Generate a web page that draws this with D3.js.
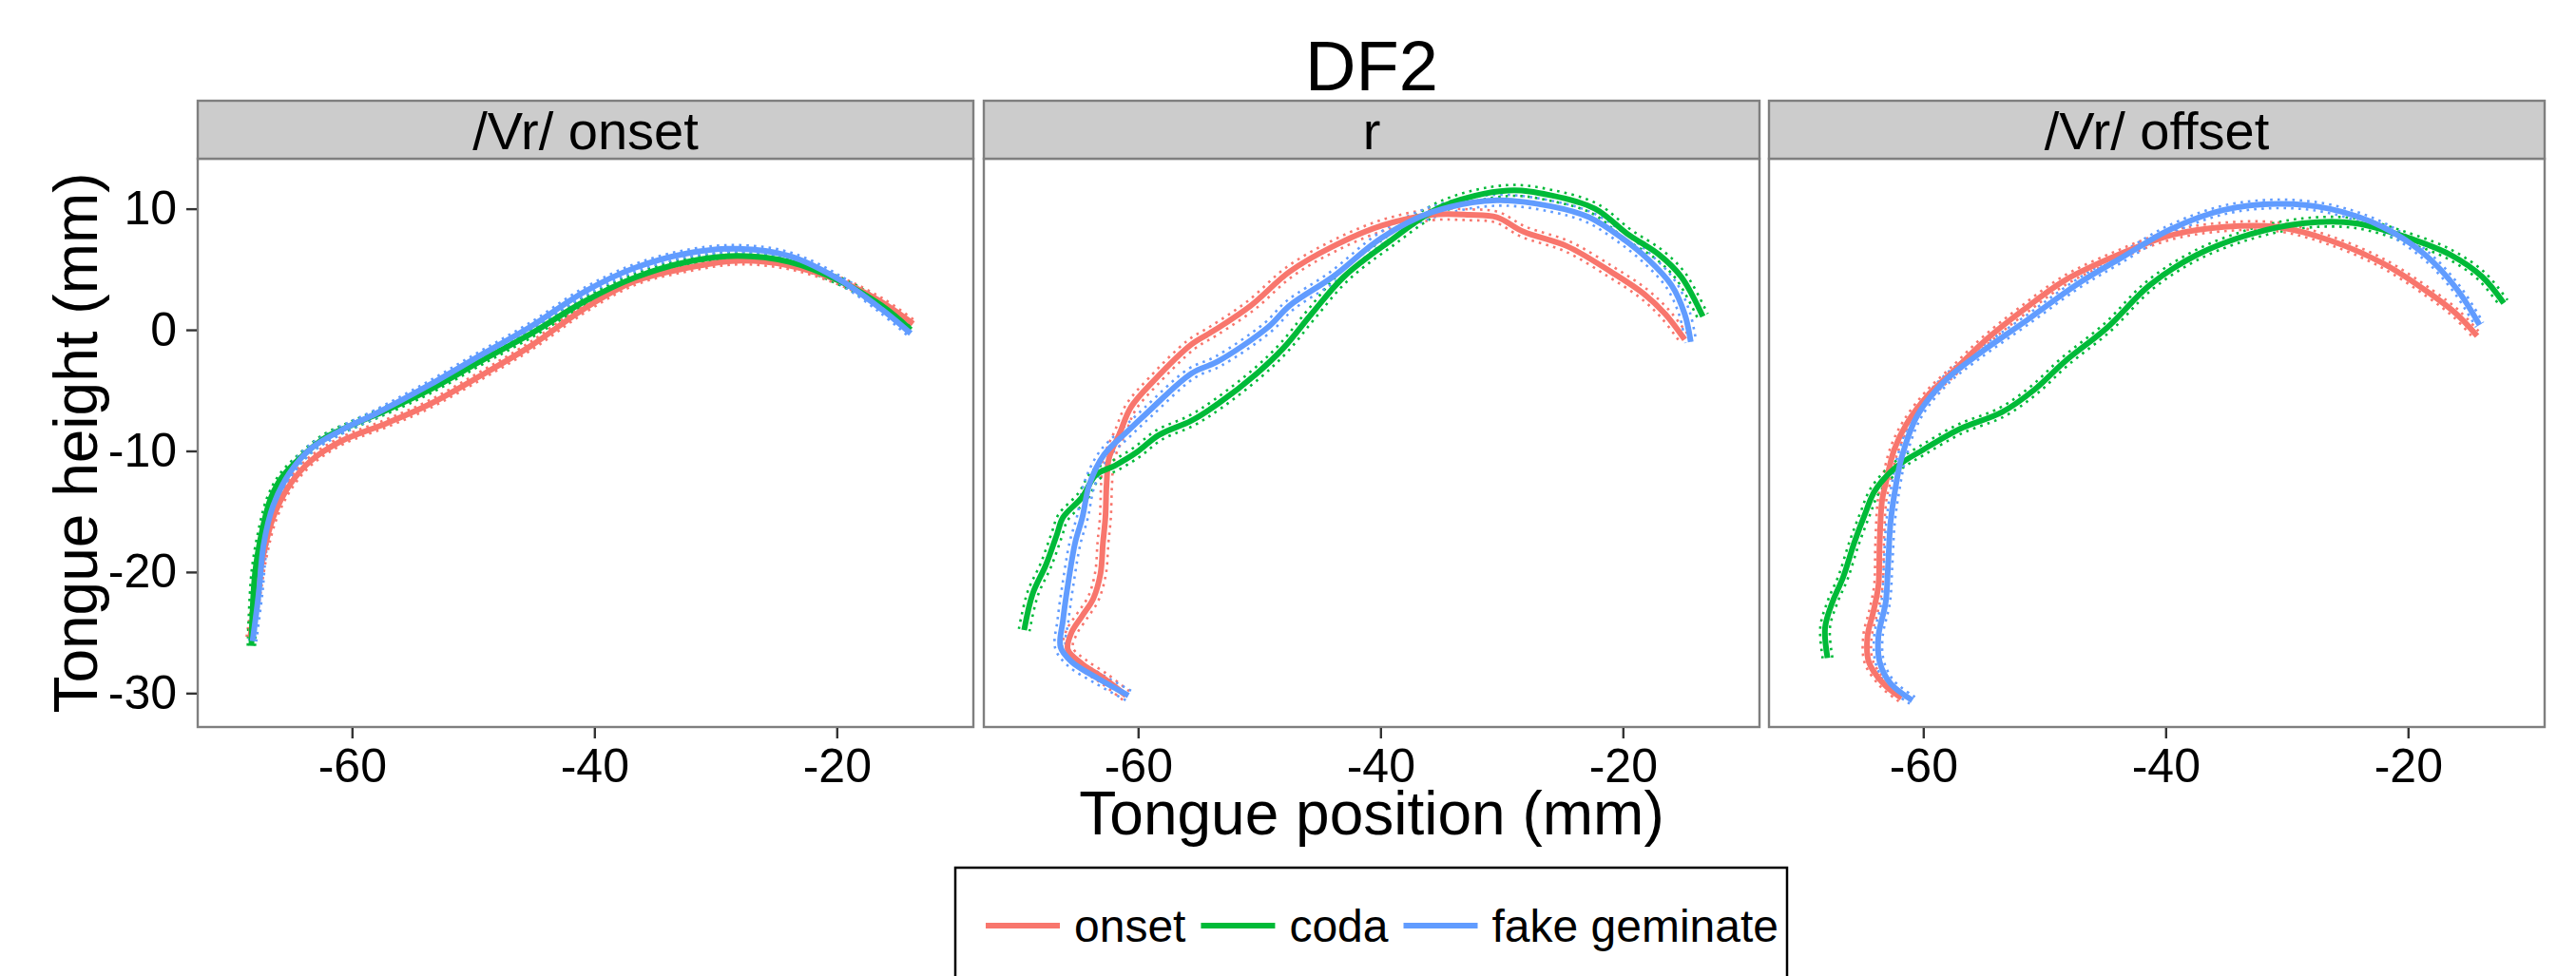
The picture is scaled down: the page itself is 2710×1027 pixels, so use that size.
<!DOCTYPE html>
<meta charset="utf-8">
<script src="https://d3js.org/d3.v7.min.js"></script>
<style>
  body { margin: 0; background: #fff; }
  text { font-family: "Liberation Sans", Arial, Helvetica, sans-serif; }
</style>
<div id="chart"></div>
<script>

// panels, groups, ticks
var panels = ["/Vr/ onset", "r", "/Vr/ offset"];
var groups = ["onset", "coda", "fake geminate"];
var xTicks = [-60, -40, -20];
var yTicks = [10, 0, -10, -20, -30];

// mean contours (tongue position, tongue height)
var vrOnsetOnset = [[-68.4,-25.4],[-68.0,-22.8],[-67.3,-18.5],[-66.5,-15.5],[-65.2,-12.9],[-63.5,-10.9],[-60.9,-9.2],[-57.1,-7.7],[-53.7,-6.2],[-49.4,-3.8],[-45.2,-1.3],[-40.9,1.7],[-36.7,4.0],[-32.4,5.1],[-28.2,5.7],[-23.9,5.3],[-19.7,4.0],[-16.3,2.3],[-13.7,0.5]];
var vrOnsetCoda = [[-68.3,-26.1],[-68.0,-20.1],[-67.4,-16.5],[-66.7,-13.9],[-65.8,-12.2],[-64.3,-10.6],[-62.2,-8.9],[-60.1,-7.9],[-57.1,-6.6],[-53.7,-5.0],[-49.4,-2.6],[-45.2,-0.3],[-40.9,2.3],[-36.7,4.3],[-32.4,5.6],[-28.2,6.1],[-23.9,5.6],[-19.7,4.0],[-16.3,2.0],[-13.9,0.0]];
var vrOnsetFake = [[-68.2,-25.7],[-67.7,-21.8],[-67.3,-17.8],[-66.5,-14.5],[-65.2,-11.9],[-63.5,-9.9],[-60.9,-8.3],[-58.0,-6.9],[-53.7,-4.6],[-49.4,-2.1],[-45.2,0.3],[-40.9,3.1],[-36.7,5.1],[-32.4,6.3],[-28.2,6.7],[-23.9,6.1],[-19.7,4.1],[-16.3,1.7],[-13.9,-0.3]];

var rOnset = [[-61.0,-30.2],[-62.8,-28.8],[-64.6,-27.6],[-65.8,-26.4],[-65.5,-25.0],[-64.6,-23.6],[-63.7,-22.2],[-63.1,-20.1],[-62.9,-17.6],[-62.7,-15.5],[-62.6,-12.7],[-62.4,-10.6],[-61.5,-8.5],[-60.6,-6.4],[-58.8,-4.3],[-55.6,-1.2],[-53.8,-0.1],[-50.7,2.0],[-47.5,4.8],[-43.9,6.9],[-39.9,8.6],[-35.8,9.5],[-32.7,9.5],[-30.4,9.3],[-28.2,8.1],[-24.6,6.9],[-21.0,4.8],[-18.3,3.0],[-16.5,1.3],[-14.9,-0.8]];
var rCoda = [[-69.4,-24.8],[-68.7,-21.8],[-67.6,-19.4],[-66.7,-16.9],[-66.2,-15.5],[-64.6,-13.8],[-63.5,-12.0],[-61.9,-11.2],[-60.1,-10.1],[-58.3,-8.7],[-55.6,-7.5],[-53.4,-6.1],[-50.2,-3.6],[-48.0,-1.5],[-45.7,1.3],[-43.0,4.4],[-39.4,7.2],[-34.9,10.2],[-29.5,11.5],[-25.9,11.1],[-22.3,10.0],[-19.6,7.9],[-17.0,6.2],[-15.2,4.4],[-13.4,1.1]];
var rFake = [[-60.8,-30.2],[-63.3,-28.8],[-65.5,-27.4],[-66.4,-26.2],[-66.2,-24.0],[-65.8,-21.1],[-65.2,-17.6],[-64.6,-15.5],[-64.0,-12.7],[-62.8,-10.3],[-61.0,-8.5],[-59.2,-6.8],[-55.6,-3.6],[-53.4,-2.6],[-49.3,0.2],[-47.5,2.0],[-43.9,4.4],[-39.9,7.6],[-35.8,9.7],[-30.4,10.7],[-25.9,10.2],[-22.8,9.3],[-20.1,7.6],[-17.9,5.8],[-16.0,3.7],[-14.9,1.3],[-14.4,-1.0]];

var vrOffsetOnset = [[-61.8,-30.4],[-63.3,-29.2],[-64.5,-27.4],[-64.6,-25.3],[-64.1,-23.2],[-63.7,-21.1],[-63.6,-17.6],[-63.4,-14.1],[-63.1,-12.7],[-62.4,-9.9],[-61.4,-7.8],[-59.6,-5.4],[-57.4,-3.3],[-54.8,-0.8],[-51.8,1.6],[-48.3,4.1],[-43.9,6.2],[-39.6,7.8],[-35.2,8.5],[-30.8,8.5],[-26.5,7.4],[-22.1,5.5],[-18.2,3.0],[-16.0,1.3],[-14.3,-0.5]];
var vrOffsetCoda = [[-67.9,-27.1],[-68.1,-24.6],[-67.5,-22.5],[-66.6,-20.4],[-65.7,-17.6],[-64.8,-15.2],[-64.0,-13.3],[-62.2,-11.3],[-60.0,-9.9],[-57.0,-8.2],[-53.5,-6.8],[-50.9,-5.0],[-48.3,-2.6],[-44.8,0.2],[-41.3,3.7],[-37.4,6.2],[-33.0,7.9],[-28.7,8.8],[-24.3,8.8],[-20.0,7.6],[-16.5,6.2],[-13.9,4.4],[-12.1,2.2]];
var vrOffsetFake = [[-60.9,-30.6],[-62.7,-29.2],[-63.6,-27.4],[-63.7,-25.3],[-63.1,-22.5],[-62.9,-19.4],[-62.7,-15.9],[-62.3,-13.1],[-61.8,-10.6],[-60.5,-7.1],[-58.3,-4.3],[-55.7,-2.2],[-51.3,0.9],[-47.4,3.7],[-43.9,5.8],[-39.6,8.3],[-35.2,9.9],[-30.8,10.4],[-26.5,10.0],[-22.1,8.5],[-18.6,6.2],[-16.0,3.4],[-14.1,0.4]];

// standard error band half-width (mm) per panel, per group
var seOnset = [0.3, 0.3, 0.3];
var seR = [0.45, 0.45, 0.45];
var seOffset = [0.35, 0.4, 0.35];

var curves = [
  [vrOnsetOnset, vrOnsetCoda, vrOnsetFake],
  [rOnset, rCoda, rFake],
  [vrOffsetOnset, vrOffsetCoda, vrOffsetFake]
];
var ses = [seOnset, seR, seOffset];

var colors = ["#F8766D", "#00BA38", "#619CFF"];

var W = 2710, H = 1027;
var panelLeft = [208, 1035, 1861],
    panelW = 816,
    panelTop = 167,
    panelH = 598,
    stripTop = 106;

var svg = d3.select("#chart").append("svg")
    .attr("width", W)
    .attr("height", H);

var x = d3.scaleLinear().domain([-72.73, -8.73]).range([0, panelW]);
var y = d3.scaleLinear().domain([-32.8, 14.13]).range([panelH, 0]);

var line = d3.line().curve(d3.curveCatmullRom.alpha(0.5));

// plain hyphen for negatives, like the original
var fmt = function(d) { return String(d); };

// shift a pixel path sideways along its normal
function shifted(pts, off) {
  return pts.map(function(p, i) {
    var a = pts[Math.max(0, i - 1)], b = pts[Math.min(pts.length - 1, i + 1)];
    var tx = b[0] - a[0], ty = b[1] - a[1];
    var len = Math.sqrt(tx * tx + ty * ty) || 1;
    return [p[0] - ty / len * off, p[1] + tx / len * off];
  });
}

// title
svg.append("text")
  .attr("x", 1443)
  .attr("y", 95)
  .attr("text-anchor", "middle")
  .style("font-size", "74px")
  .text("DF2");

panels.forEach(function(name, pi) {
  var g = svg.append("g")
    .attr("transform", "translate(" + panelLeft[pi] + "," + panelTop + ")");

  // strip
  svg.append("rect")
    .attr("x", panelLeft[pi])
    .attr("y", stripTop)
    .attr("width", panelW)
    .attr("height", panelTop - stripTop)
    .attr("fill", "#CCCCCC")
    .attr("stroke", "#7F7F7F")
    .attr("stroke-width", 2.4);
  svg.append("text")
    .attr("x", panelLeft[pi] + panelW / 2)
    .attr("y", 157)
    .attr("text-anchor", "middle")
    .style("font-size", "56px")
    .text(name);

  g.append("rect")
    .attr("width", panelW)
    .attr("height", panelH)
    .attr("fill", "white");

  var lines = g.append("g");

  curves[pi].forEach(function(data, gi) {
    var pts = data.map(function(d) { return [x(d[0]), y(d[1])]; });
    var off = ses[pi][gi] * (y(0) - y(1));
    [off, -off].forEach(function(o) {
      lines.append("path")
        .attr("d", line(shifted(pts, o)))
        .attr("fill", "none")
        .attr("stroke", colors[gi])
        .attr("stroke-width", 2.6)
        .attr("stroke-dasharray", "2.6,5.2");
    });
  });
  curves[pi].forEach(function(data, gi) {
    var pts = data.map(function(d) { return [x(d[0]), y(d[1])]; });
    lines.append("path")
      .attr("d", line(pts))
      .attr("fill", "none")
      .attr("stroke", colors[gi])
      .attr("stroke-width", 6)
      .attr("stroke-linejoin", "round");
  });

  g.append("rect")
    .attr("width", panelW)
    .attr("height", panelH)
    .attr("fill", "none")
    .attr("stroke", "#7F7F7F")
    .attr("stroke-width", 2.4);

  // x axis
  var xa = g.append("g")
    .attr("transform", "translate(0," + (panelH + 1) + ")")
    .call(d3.axisBottom(x).tickValues(xTicks).tickFormat(fmt).tickSize(11).tickPadding(10));
  xa.select(".domain").remove();
  xa.selectAll("line").attr("stroke", "#333").attr("stroke-width", 2.4);
  xa.selectAll("text").style("font-size", "50px").attr("fill", "black")
    .style("font-family", "'Liberation Sans', Arial, sans-serif");

  if (pi === 0) {
    var ya = g.append("g")
      .attr("transform", "translate(-1,0)")
      .call(d3.axisLeft(y).tickValues(yTicks).tickFormat(fmt).tickSize(11).tickPadding(10));
    ya.select(".domain").remove();
    ya.selectAll("line").attr("stroke", "#333").attr("stroke-width", 2.4);
    ya.selectAll("text").style("font-size", "50px").attr("fill", "black")
      .style("font-family", "'Liberation Sans', Arial, sans-serif");
  }
});

// axis titles
svg.append("text")
  .attr("x", 1443)
  .attr("y", 878)
  .attr("text-anchor", "middle")
  .style("font-size", "64px")
  .text("Tongue position (mm)");

svg.append("text")
  .attr("transform", "translate(102," + (panelTop + panelH / 2) + ") rotate(-90)")
  .attr("text-anchor", "middle")
  .style("font-size", "64px")
  .text("Tongue height (mm)");

// legend
var legend = svg.append("g");
legend.append("rect")
  .attr("x", 1005)
  .attr("y", 913)
  .attr("width", 875)
  .attr("height", 140)
  .attr("fill", "white")
  .attr("stroke", "black")
  .attr("stroke-width", 2.5);

var lx = 1037;
groups.forEach(function(name, gi) {
  legend.append("line")
    .attr("x1", lx).attr("x2", lx + 78)
    .attr("y1", 974).attr("y2", 974)
    .attr("stroke", colors[gi])
    .attr("stroke-width", 6);
  var t = legend.append("text")
    .attr("x", lx + 93)
    .attr("y", 991)
    .style("font-size", "48px")
    .text(name);
  lx = lx + 93 + t.node().getComputedTextLength() + 16;
});

</script>
